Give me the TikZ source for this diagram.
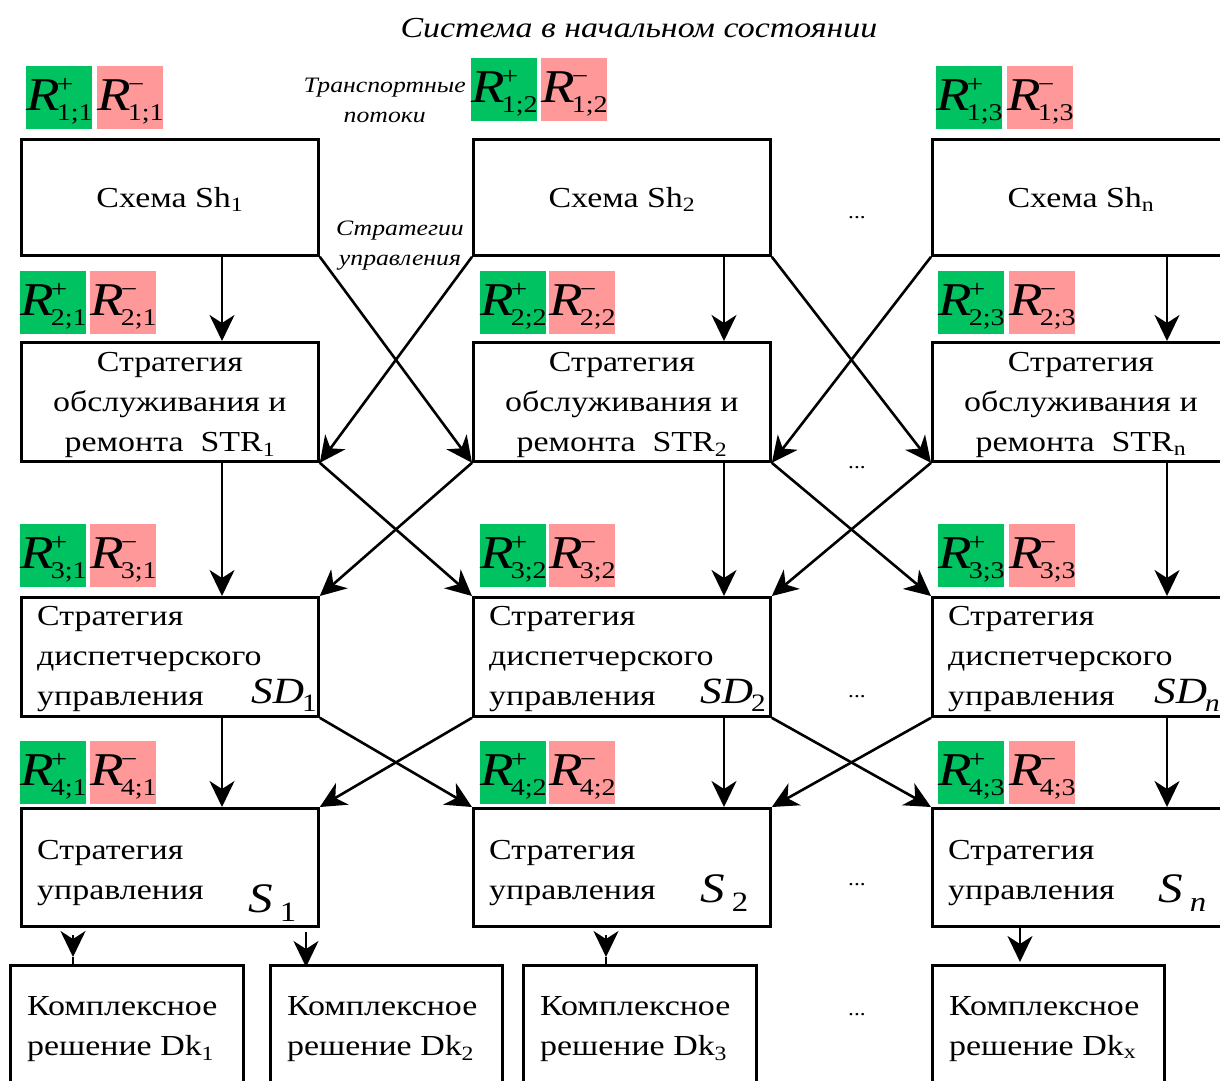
\documentclass[tikz,border=0pt]{standalone}
\usepackage{fontspec}
\IfFontExistsTF{LiberationSerif-Regular.ttf}{%
  \setmainfont{LiberationSerif}[Extension=.ttf, UprightFont=*-Regular, ItalicFont=*-Italic, BoldFont=*-Bold, BoldItalicFont=*-BoldItalic, FakeStretch=1.17]}{%
  \setmainfont{Liberation Serif}[FakeStretch=1.17]}
\usetikzlibrary{arrows.meta,calc}
\definecolor{rgreen}{RGB}{0,194,96}
\definecolor{rpink}{RGB}{255,153,153}
\newcommand{\Rpm}[2]{{\fontsize{47}{47}\selectfont\itshape R}\kern-3pt\rlap{\raisebox{18pt}{\fontsize{25}{25}\selectfont #1}}\raisebox{-10pt}{\fontsize{24}{24}\selectfont #2}}
\newcommand{\bodyfont}{\fontsize{29}{40}\selectfont}
\begin{document}
\begin{tikzpicture}[x=1pt,y=-1pt,
  box/.style={draw, line width=2.8pt, inner sep=0pt, anchor=north west, minimum width=297pt},
  badge/.style={inner sep=0pt, minimum width=66pt, minimum height=63pt, anchor=north west},
  gb/.style={badge, fill=rgreen},
  pb/.style={badge, fill=rpink},
  btxt/.style={inner sep=0pt, anchor=base west},
  txt/.style={inner sep=0pt, font=\bodyfont},
  ltxt/.style={txt, align=left, anchor=west},
  ctxt/.style={txt, align=center},
  note/.style={inner sep=0pt, align=center, font=\fontsize{22}{30}\selectfont\itshape},
  arr/.style={line width=2.6pt, -{Stealth[length=26pt,width=25pt,inset=8pt]}},
  ln/.style={line width=2.6pt},
  dots/.style={inner sep=0pt, font=\fontsize{20}{20}\selectfont}
]
\useasboundingbox (0,0) rectangle (1220,1080);

% title and notes
\node[inner sep=0pt, font=\fontsize{29}{29}\selectfont\itshape] (title) at (639,28) {Система в начальном состоянии};
\node[note, anchor=east] (tp) at (466,100) {Транспортные\\потоки};
\node[note] (su) at (400,246) {Стратегии\\управления};

% row 1 boxes
\node[box, minimum height=116pt] (sh1) at (20,138) {};
\node[box, minimum height=116pt] (sh2) at (472,138) {};
\node[box, minimum height=116pt] (sh3) at (931,138) {};
\node[ctxt] (tsh1) at ($(sh1.center)+(0,2)$) {Схема Sh\textsubscript{1}};
\node[ctxt] (tsh2) at ($(sh2.center)+(0,2)$) {Схема Sh\textsubscript{2}};
\node[ctxt] (tsh3) at ($(sh3.center)+(0,2)$) {Схема Sh\textsubscript{n}};

% row 2 boxes
\node[box, minimum height=119pt] (str1) at (20,341) {};
\node[box, minimum height=119pt] (str2) at (472,341) {};
\node[box, minimum height=119pt] (str3) at (931,341) {};
\node[ctxt] (tstr1) at ($(str1.center)+(0,3)$) {Стратегия\\обслуживания и\\ремонта\ \ STR\textsubscript{1}};
\node[ctxt] (tstr2) at ($(str2.center)+(0,3)$) {Стратегия\\обслуживания и\\ремонта\ \ STR\textsubscript{2}};
\node[ctxt] (tstr3) at ($(str3.center)+(0,3)$) {Стратегия\\обслуживания и\\ремонта\ \ STR\textsubscript{n}};

% row 3 boxes
\node[box, minimum height=119pt] (sd1) at (20,596) {};
\node[box, minimum height=119pt] (sd2) at (472,596) {};
\node[box, minimum height=119pt] (sd3) at (931,596) {};
\node[ltxt] (tsd1) at ($(sd1.west)+(17,2)$) {Стратегия\\диспетчерского\\управления};
\node[ltxt] (tsd2) at ($(sd2.west)+(17,2)$) {Стратегия\\диспетчерского\\управления};
\node[ltxt] (tsd3) at ($(sd3.west)+(17,2)$) {Стратегия\\диспетчерского\\управления};
\node[inner sep=0pt, anchor=base west, font=\fontsize{37}{37}\selectfont] (lsd1) at (251,703) {\textit{SD}\kern-2pt\raisebox{-8pt}{\fontsize{25}{25}\selectfont 1}};
\node[inner sep=0pt, anchor=base west, font=\fontsize{37}{37}\selectfont] (lsd2) at (700,703) {\textit{SD}\kern-2pt\raisebox{-8pt}{\fontsize{25}{25}\selectfont 2}};
\node[inner sep=0pt, anchor=base west, font=\fontsize{37}{37}\selectfont] (lsd3) at (1154,703) {\textit{SD}\kern-2pt\raisebox{-8pt}{\fontsize{25}{25}\selectfont\itshape n}};

% row 4 boxes
\node[box, minimum height=118pt] (s1) at (20,807) {};
\node[box, minimum height=118pt] (s2) at (472,807) {};
\node[box, minimum height=118pt] (s3) at (931,807) {};
\node[ltxt] (ts1) at ($(s1.west)+(17,6)$) {Стратегия\\управления};
\node[ltxt] (ts2) at ($(s2.west)+(17,6)$) {Стратегия\\управления};
\node[ltxt] (ts3) at ($(s3.west)+(17,6)$) {Стратегия\\управления};
\node[inner sep=0pt, anchor=base west, font=\fontsize{42}{42}\selectfont] (ls1) at (248,912) {\textit{S}\,\raisebox{-9pt}{\fontsize{28}{28}\selectfont 1}};
\node[inner sep=0pt, anchor=base west, font=\fontsize{42}{42}\selectfont] (ls2) at (700,902) {\textit{S}\,\raisebox{-9pt}{\fontsize{28}{28}\selectfont 2}};
\node[inner sep=0pt, anchor=base west, font=\fontsize{42}{42}\selectfont] (ls3) at (1158,902) {\textit{S}\,\raisebox{-9pt}{\fontsize{28}{28}\selectfont\itshape n}};

% row 5 boxes
\node[box, minimum width=233pt, minimum height=140pt] (dk1) at (9,964) {};
\node[box, minimum width=232pt, minimum height=140pt] (dk2) at (269,964) {};
\node[box, minimum width=233pt, minimum height=140pt] (dk3) at (522,964) {};
\node[box, minimum width=232pt, minimum height=140pt] (dk4) at (931,964) {};
\node[ltxt, anchor=north west] (tdk1) at (27,996) {Комплексное\\решение Dk\textsubscript{1}};
\node[ltxt, anchor=north west] (tdk2) at (287,996) {Комплексное\\решение Dk\textsubscript{2}};
\node[ltxt, anchor=north west] (tdk3) at (540,996) {Комплексное\\решение Dk\textsubscript{3}};
\node[ltxt, anchor=north west] (tdk4) at (949,996) {Комплексное\\решение Dk\textsubscript{x}};

% badges
\foreach \r/\y/\xa/\xb/\xc/\xd/\xe/\xf/\yb in {1/66/26/97/471/541/936/1007/58, 2/271/20/90/480/549/938/1009/271, 3/524/20/90/480/549/938/1009/524, 4/741/20/90/480/549/938/1009/741}{
  \node[gb] (g\r a) at (\xa,\y) {};
  \node[pb] (p\r a) at (\xb,\y) {};
  \node[gb] (g\r b) at (\xc,\yb) {};
  \node[pb] (p\r b) at (\xd,\yb) {};
  \node[gb] (g\r c) at (\xe,\y) {};
  \node[pb] (p\r c) at (\xf,\y) {};
  \node[btxt] (tg\r a) at ($(g\r a.south west)+(0,-19)$) {\Rpm{+}{\r;1}};
  \node[btxt] (tp\r a) at ($(p\r a.south west)+(0,-19)$) {\Rpm{−}{\r;1}};
  \node[btxt] (tg\r b) at ($(g\r b.south west)+(0,-19)$) {\Rpm{+}{\r;2}};
  \node[btxt] (tp\r b) at ($(p\r b.south west)+(0,-19)$) {\Rpm{−}{\r;2}};
  \node[btxt] (tg\r c) at ($(g\r c.south west)+(0,-19)$) {\Rpm{+}{\r;3}};
  \node[btxt] (tp\r c) at ($(p\r c.south west)+(0,-19)$) {\Rpm{−}{\r;3}};
}

% dots
\node[dots] (d1) at (857,218) {...};
\node[dots] (d2) at (857,468) {...};
\node[dots] (d3) at (857,697) {...};
\node[dots] (d4) at (857,885) {...};
\node[dots] (d5) at (857,1015) {...};

% vertical guides
\coordinate (v1) at (222,0);
\coordinate (v2) at (724,0);
\coordinate (v3) at (1167,0);
\foreach \a/\b in {sh/str, str/sd, sd/s}{
  \draw[arr] (\a1.south -| v1) -- (\b1.north -| v1);
  \draw[arr] (\a2.south -| v2) -- (\b2.north -| v2);
  \draw[arr] (\a3.south -| v3) -- (\b3.north -| v3);
}

% diagonals
\draw[arr] (sh1.south east) -- (str2.south west);
\draw[arr] (sh2.south west) -- (str1.south east);
\draw[arr] (sh2.south east) -- (str3.south west);
\draw[arr] (sh3.south west) -- (str2.south east);
\draw[arr] (str1.south east) -- (sd2.north west);
\draw[arr] (str2.south west) -- (sd1.north east);
\draw[arr] (str2.south east) -- (sd3.north west);
\draw[arr] (str3.south west) -- (sd2.north east);
\draw[arr] (sd1.south east) -- (s2.north west);
\draw[arr] (sd2.south west) -- (s1.north east);
\draw[arr] (sd2.south east) -- (s3.north west);
\draw[arr] (sd3.south west) -- (s2.north east);

% bottom arrows
\coordinate (b1) at (73,935);
\coordinate (b1t) at (73,957);
\draw[arr] (b1) -- (b1t);
\draw[ln] (b1t) -- (dk1.north -| b1);
\coordinate (b2) at (306,932);
\draw[arr] (b2) -- ($(dk2.north -| b2)+(0,3)$);
\coordinate (b3) at (606,935);
\coordinate (b3t) at (606,957);
\draw[arr] (b3) -- (b3t);
\draw[ln] (b3t) -- (dk3.north -| b3);
\coordinate (b4) at (1020,0);
\draw[arr] (s3.south -| b4) -- ($(dk4.north -| b4)+(0,-2)$);
\end{tikzpicture}
\end{document}
